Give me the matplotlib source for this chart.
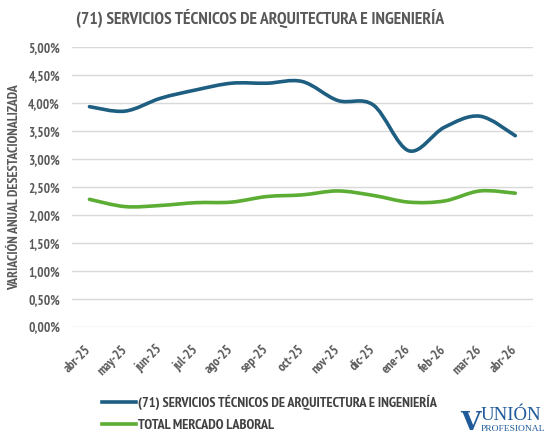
import numpy as np
import matplotlib
matplotlib.use("Agg")
import matplotlib.pyplot as plt
from matplotlib.path import Path
from matplotlib.patches import PathPatch
from matplotlib.lines import Line2D
from matplotlib.ticker import FuncFormatter

# data
months = ["abr-25", "may-25", "jun-25", "jul-25", "ago-25", "sep-25", "oct-25",
          "nov-25", "dic-25", "ene-26", "feb-26", "mar-26", "abr-26"]
arq_ing = [3.94, 3.86, 4.09, 4.24, 4.36, 4.36, 4.39, 4.05, 3.97, 3.15, 3.57, 3.77, 3.42]
total = [2.28, 2.15, 2.17, 2.22, 2.23, 2.33, 2.36, 2.43, 2.35, 2.23, 2.25, 2.43, 2.39]

name_arq = "(71) SERVICIOS TÉCNICOS DE ARQUITECTURA E INGENIERÍA"
name_total = "TOTAL MERCADO LABORAL"

blue = "#1d5e81"
green = "#5cad34"
grey = "#595959"
font = ["PT Sans Narrow", "DejaVu Sans"]
plt.rcParams["font.family"] = font
plt.rcParams["font.weight"] = "bold"


def smooth_path(xs, ys):
    # excel-like smoothed line: catmull-rom segments as cubic beziers
    p = np.column_stack([xs, ys]).astype(float)
    ext = np.vstack([p[0], p, p[-1]])
    verts = [p[0]]
    codes = [Path.MOVETO]
    for i in range(len(p) - 1):
        p0, p1, p2, p3 = ext[i], ext[i + 1], ext[i + 2], ext[i + 3]
        verts += [p1 + (p2 - p0) / 6, p2 - (p3 - p1) / 6, p2]
        codes += [Path.CURVE4] * 3
    return Path(verts, codes)


fig = plt.figure(figsize=(5.45, 4.41), dpi=100)
ax = fig.add_axes([0.1316, 0.2594, 0.8464, 0.6329])

x = np.arange(len(months))
for vals, col in [(arq_ing, blue), (total, green)]:
    ax.add_patch(PathPatch(smooth_path(x, vals), fill=False, edgecolor=col,
                           lw=2.6, capstyle="round", joinstyle="round", zorder=3))

ax.set_xlim(-0.5, len(months) - 0.5)
ax.set_ylim(0, 5)
ax.set_yticks(np.arange(0, 5.01, 0.5))
ax.yaxis.set_major_formatter(FuncFormatter(lambda v, _: f"{v:.2f}%".replace(".", ",")))
ax.set_xticks(x)
ax.set_xticklabels(months, rotation=45, ha="right", va="center",
                   rotation_mode="anchor")
ax.tick_params(axis="both", length=0, labelsize=9.5, labelcolor=grey)
ax.tick_params(axis="x", pad=15)
ax.tick_params(axis="y", pad=8.5)
ax.grid(axis="y", color="#d9d9d9", lw=1.0)
ax.set_axisbelow(True)
for s in ax.spines.values():
    s.set_visible(False)

ax.set_ylabel("VARIACIÓN ANUAL DESESTACIONALIZADA", fontsize=10, color=grey,
              fontweight="bold", labelpad=5)

fig.text(0.478, 0.957, name_arq, ha="center", va="center", fontsize=12.6, color=grey)

handles = [Line2D([], [], color=blue, lw=2.6), Line2D([], [], color=green, lw=2.6)]
fig.legend(handles, [name_arq, name_total], loc="center left",
           bbox_to_anchor=(0.187, 0.0615), frameon=False, fontsize=10.3,
           labelcolor="#404040", handlelength=2.35, handletextpad=0.15,
           labelspacing=0.62, borderpad=0, borderaxespad=0)

# logo
logo = "#1f5a9a"
fig.text(0.845, 0.025, "V", fontsize=19, color=logo, fontweight="bold",
         ha="left", va="baseline", family="DejaVu Serif")
fig.text(0.882, 0.047, "UNIÓN", fontsize=13.5, color=logo, fontweight="normal",
         ha="left", va="baseline", family="Liberation Serif")
fig.text(0.882, 0.022, "PROFESIONAL", fontsize=6.8, color=logo, fontweight="normal",
         ha="left", va="baseline", family="Liberation Serif")

fig.savefig("out.png", dpi=100)
